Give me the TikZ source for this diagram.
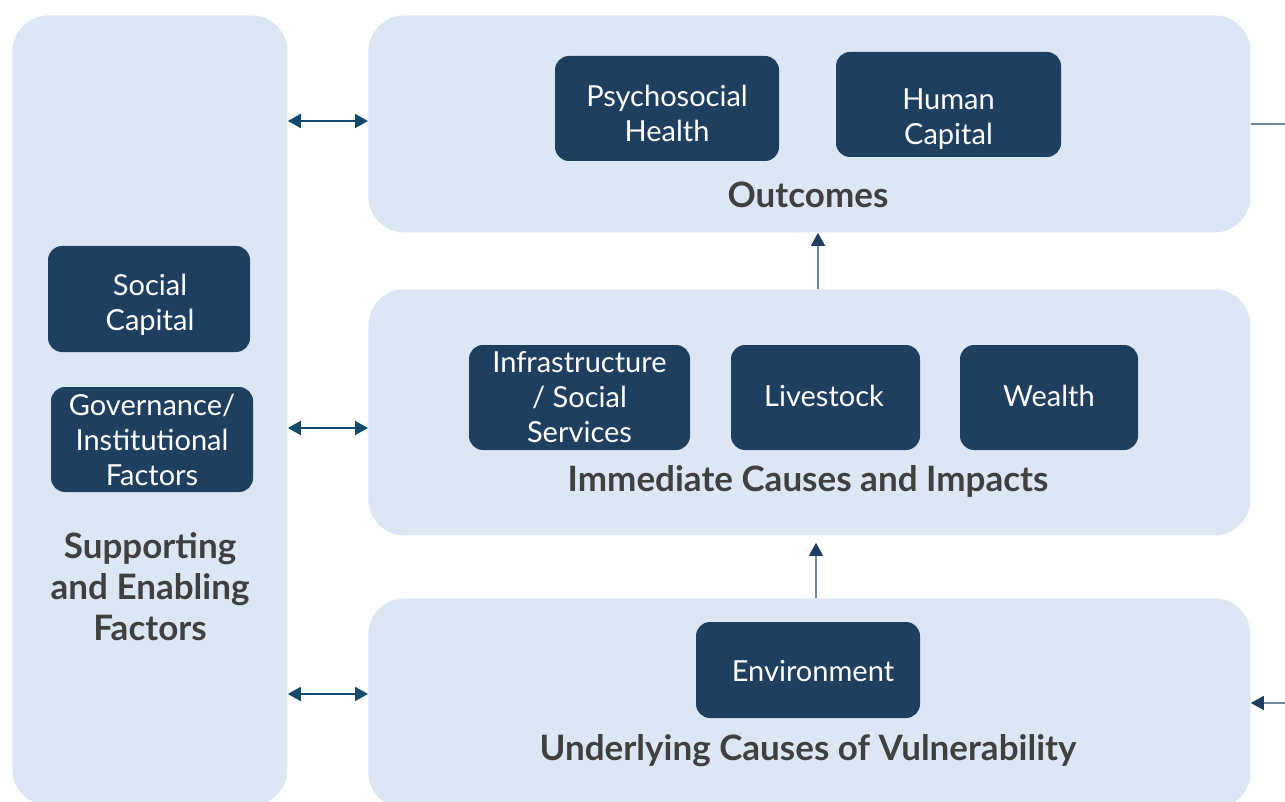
\documentclass[tikz,border=0pt]{standalone}
\usepackage{fontspec}
\setmainfont{Lato}
\usetikzlibrary{arrows.meta}
\definecolor{panel}{HTML}{DDE7F3}
\definecolor{dark}{HTML}{1F3F60}
\definecolor{arr}{HTML}{124A6D}
\definecolor{stem}{HTML}{6E87A3}
\definecolor{lbl}{HTML}{404040}
\tikzset{
  panelbox/.style={fill=panel, draw=none, rounded corners=18pt, inner sep=0pt},
  dbox/.style={fill=dark, draw=none, rounded corners=7pt, text=white, align=center,
    font=\fontsize{14.5}{17.5}\selectfont, inner sep=0pt},
  dtext/.style={text=white, align=center, font=\fontsize{14.5}{17.5}\selectfont, inner sep=0pt},
  plabel/.style={text=lbl, align=center, font=\bfseries\fontsize{17.5}{20.5}\selectfont, inner sep=0pt},
  dbl/.style={draw=arr, line width=1pt, {Triangle[length=6.5pt,width=7pt]}-{Triangle[length=6.5pt,width=7pt]}},
  uparr/.style={draw=stem, line width=0.8pt, -{Triangle[length=6.5pt,width=7pt,color=dark]}},
  sidearr/.style={draw=stem, line width=0.8pt}
}
\begin{document}
\begin{tikzpicture}[x=0.5pt,y=-0.5pt]
\useasboundingbox (0,0) rectangle (1285,802);
\clip (0,0) rectangle (1285,802);
% panels
\node[panelbox, minimum width=137.5pt, minimum height=395pt, anchor=north west] (sup) at (12,15) {};
\node[panelbox, minimum width=441pt, minimum height=108.5pt, anchor=north west] (out) at (368,15) {};
\node[panelbox, minimum width=441pt, minimum height=123pt, anchor=north west] (imm) at (368,289) {};
\node[panelbox, minimum width=441pt, minimum height=105pt, anchor=north west] (und) at (368,598) {};
% dark boxes
\node[dbox, minimum width=112pt, minimum height=52.5pt] (psy) at (667,108.5) {};
\node[dtext] (psyt) at (667,113) {Psychosocial\\Health};
\node[dbox, minimum width=112.5pt, minimum height=52.5pt] (hc) at (948.5,104.5) {};
\node[dtext] (hct) at (948.5,119) {Human\\Capital};
\node[dbox, minimum width=101pt, minimum height=53pt] (sc) at (149,299) {};
\node[dtext] (sct) at (150,305) {Social\\Capital};
\node[dbox, minimum width=101pt, minimum height=52.5pt] (gov) at (152,439.5) {Governance/\\Institutional\\Factors};
\node[dbox, minimum width=110.5pt, minimum height=52.5pt] (inf) at (579.5,397.5) {Infrastructure\\/ Social\\Services};
\node[dbox, minimum width=94.5pt, minimum height=52.5pt] (liv) at (825.5,397.5) {};
\node[dtext] (livt) at (824,396) {Livestock};
\node[dbox, minimum width=89pt, minimum height=52.5pt] (wea) at (1049,397.5) {};
\node[dtext] (weat) at (1049,396) {Wealth};
\node[dbox, minimum width=112pt, minimum height=48pt] (env) at (808,670) {};
\node[dtext] (envt) at (813,671) {Environment};
% labels
\node[plabel] (outl) at (808,195) {Outcomes};
\node[plabel] (imml) at (808,481) {Immediate Causes and Impacts};
\node[plabel] (undl) at (808,751) {Underlying Causes of Vulnerability};
\node[plabel] (supl) at (150,587) {Supporting\\and Enabling\\Factors};
% connectors
\draw[dbl] (sup.east |- 0,121) -- (out.west |- 0,121);
\draw[dbl] (sup.east |- 0,428) -- (imm.west |- 0,428);
\draw[dbl] (sup.east |- 0,694) -- (und.west |- 0,694);
\draw[uparr] (imm.north -| 818,0) -- (out.south -| 818,0);
\draw[uparr] (und.north -| 816,0) -- ([yshift=-3.5pt]imm.south -| 816,0);
\coordinate (r1) at (1290,124);
\coordinate (r2) at (1290,703);
\draw[sidearr] (out.east |- r1) -- (r1);
\draw[sidearr, -{Triangle[length=6.5pt,width=7pt,color=dark]}] (r2) -- (und.east |- r2);
\end{tikzpicture}
\end{document}
